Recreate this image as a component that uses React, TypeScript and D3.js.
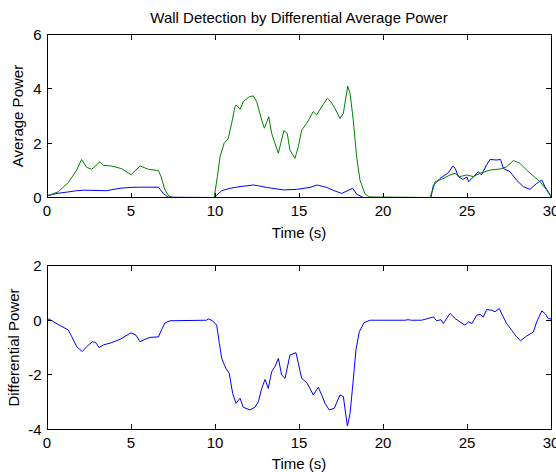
import React from "react";
import * as d3 from "d3";

// ---- Data ----
const xTicks = [0, 5, 10, 15, 20, 25, 30];
const topYTicks = [0, 2, 4, 6];
const botYTicks = [-4, -2, 0, 2];

const titleText = "Wall Detection by Differential Average Power";
const xLabelText = "Time (s)";
const topYLabel = "Average Power";
const botYLabel = "Differential Power";

const greenT = [0, 0.67, 1.27, 1.77, 2.06, 2.36, 2.66, 3.15, 3.35, 3.85, 4.44, 5.0, 5.54, 6.03, 6.63, 6.79, 7.02, 7.26, 7.5, 9.95, 10.14, 10.3, 10.54, 10.79, 10.99, 11.19, 11.25, 11.5, 11.68, 12.04, 12.28, 12.48, 12.78, 12.94, 13.2, 13.37, 13.77, 14.1, 14.3, 14.46, 14.76, 14.96, 15.16, 15.46, 15.85, 16.05, 16.35, 16.69, 16.89, 17.14, 17.44, 17.64, 17.9, 18.04, 18.23, 18.43, 18.63, 18.93, 19.18, 22.8, 23.0, 23.1, 23.49, 23.99, 24.29, 24.58, 24.98, 25.38, 25.77, 26.37, 26.96, 27.36, 27.76, 28.15, 28.55, 28.95, 29.35, 29.74, 30];
const greenV = [0.05, 0.21, 0.55, 1.01, 1.4, 1.11, 1.04, 1.31, 1.18, 1.16, 1.06, 0.84, 1.16, 1.04, 0.99, 0.77, 0.28, 0.05, 0, 0, 0.77, 1.5, 1.99, 2.18, 2.73, 3.34, 3.4, 3.25, 3.53, 3.71, 3.74, 3.53, 2.85, 2.55, 2.97, 2.36, 1.63, 2.46, 2.36, 1.75, 1.44, 1.87, 2.48, 2.73, 3.16, 3.04, 3.34, 3.65, 3.53, 3.28, 2.91, 3.1, 4.1, 3.83, 2.85, 1.5, 0.64, 0.13, 0.02, 0, 0.35, 0.58, 0.67, 0.83, 0.89, 0.77, 0.83, 0.77, 0.89, 1.01, 1.05, 1.13, 1.36, 1.26, 1.01, 0.79, 0.58, 0.28, 0.02];

const blueT = [0, 0.18, 0.6, 1.2, 1.77, 2.2, 3.55, 3.8, 4.35, 4.94, 5.5, 6.0, 6.63, 6.92, 7.22, 9.95, 10.4, 10.9, 11.49, 12.28, 12.6, 13.07, 14.07, 14.86, 15.65, 16.09, 16.65, 17.1, 17.54, 18.2, 18.43, 18.83, 22.85, 23.0, 23.39, 23.89, 24.15, 24.3, 24.48, 24.74, 25.0, 25.1, 25.4, 25.67, 25.86, 26.17, 26.37, 26.76, 27.0, 27.16, 27.56, 27.95, 28.35, 28.75, 29.15, 29.45, 29.64, 30];
const blueV = [0.08, 0.09, 0.15, 0.2, 0.25, 0.27, 0.25, 0.28, 0.34, 0.37, 0.38, 0.38, 0.38, 0.15, 0.01, 0, 0.25, 0.34, 0.4, 0.46, 0.43, 0.37, 0.28, 0.3, 0.37, 0.46, 0.37, 0.25, 0.15, 0.34, 0.12, 0, 0, 0.45, 0.7, 0.91, 1.16, 1.07, 0.77, 0.67, 0.75, 0.58, 0.77, 0.95, 0.83, 1.2, 1.4, 1.38, 1.4, 1.07, 0.95, 0.64, 0.4, 0.3, 0.52, 0.64, 0.4, 0.05];

const diffT = [0, 0.12, 0.2, 0.48, 1.27, 1.47, 1.77, 2.1, 2.36, 2.7, 2.9, 3.1, 3.35, 3.85, 4.35, 5.0, 5.3, 5.54, 5.83, 6.13, 6.63, 6.83, 7.02, 7.32, 9.5, 9.6, 9.85, 10.1, 10.26, 10.4, 10.65, 10.85, 11.05, 11.25, 11.49, 11.68, 12.08, 12.38, 12.58, 12.78, 12.98, 13.17, 13.37, 13.57, 13.77, 13.97, 14.17, 14.46, 14.82, 14.96, 15.16, 15.46, 15.65, 15.85, 16.15, 16.35, 16.55, 16.8, 17.1, 17.44, 17.64, 17.88, 18.04, 18.23, 18.39, 18.59, 18.87, 19.23, 21.3, 21.5, 21.7, 22.3, 23.0, 23.2, 23.45, 23.59, 23.99, 24.3, 24.58, 24.88, 25.1, 25.3, 25.57, 25.77, 25.97, 26.17, 26.47, 26.67, 26.92, 27.16, 27.36, 27.66, 27.95, 28.19, 28.55, 28.95, 29.15, 29.45, 29.64, 29.84, 30];
const diffV = [0, 0.05, 0.02, -0.09, -0.36, -0.6, -0.97, -1.15, -0.97, -0.79, -0.82, -1.0, -0.91, -0.82, -0.7, -0.46, -0.55, -0.79, -0.7, -0.63, -0.61, -0.34, -0.1, -0.02, 0, 0.05, -0.02, -0.18, -0.85, -1.4, -1.77, -1.95, -2.68, -3.05, -2.86, -3.19, -3.29, -3.19, -2.99, -2.5, -2.17, -2.5, -1.89, -1.7, -1.4, -2.01, -2.13, -1.28, -1.19, -1.58, -2.13, -2.29, -2.5, -2.74, -2.46, -2.74, -3.05, -3.29, -3.23, -2.74, -2.8, -3.88, -3.42, -2.19, -1.09, -0.42, -0.09, 0, 0, 0.02, 0, 0, 0.12, -0.02, 0.02, -0.12, 0.25, 0.06, -0.06, -0.18, -0.06, -0.12, 0.18, 0.22, 0.12, 0.39, 0.37, 0.31, 0.43, 0.12, -0.12, -0.37, -0.61, -0.75, -0.58, -0.43, -0.06, 0.34, 0.25, 0.06, 0.05];

// ---- Layout ----
const W = 556;
const H = 472;
const FONT = "'Liberation Sans', Arial, Helvetica, sans-serif";
const FS = 15;
const left = 47;
const right = 551;
const topPanel = { top: 34.5, bottom: 197.5 };
const botPanel = { top: 265.7, bottom: 429.3 };

type Series = { t: number[]; v: number[]; color: string };

function Panel({
  y0,
  y1,
  yDomain,
  yTicks,
  yLabel,
  yLabelX,
  series,
}: {
  y0: number;
  y1: number;
  yDomain: [number, number];
  yTicks: number[];
  yLabel: string;
  yLabelX: number;
  series: Series[];
}) {
  const x = d3.scaleLinear().domain([0, 30]).range([left, right]);
  const y = d3.scaleLinear().domain(yDomain).range([y1, y0]);
  const tickLen = 5;
  const cy = (y0 + y1) / 2;
  return (
    <g>
      {series.map((s, i) => {
        const pts: [number, number][] = s.t.map((t, j) => [t, s.v[j]]);
        const line = d3
          .line<[number, number]>()
          .x((d) => x(d[0]))
          .y((d) => y(d[1]));
        return (
          <path
            key={i}
            d={line(pts) || ""}
            fill="none"
            stroke={s.color}
            strokeWidth={1}
            strokeLinejoin="round"
          />
        );
      })}
      <rect
        x={left}
        y={y0}
        width={right - left}
        height={y1 - y0}
        fill="none"
        stroke="#000"
        strokeWidth={1}
        shapeRendering="crispEdges"
      />
      {xTicks.map((t) => (
        <g key={"x" + t}>
          <line x1={x(t)} x2={x(t)} y1={y1} y2={y1 - tickLen} stroke="#000" shapeRendering="crispEdges" />
          <line x1={x(t)} x2={x(t)} y1={y0} y2={y0 + tickLen} stroke="#000" shapeRendering="crispEdges" />
          <text x={x(t)} y={y1 + 18.5} textAnchor="middle" fontSize={FS} fontFamily={FONT}>
            {t}
          </text>
        </g>
      ))}
      {yTicks.map((v) => (
        <g key={"y" + v}>
          <line x1={left} x2={left + tickLen} y1={y(v)} y2={y(v)} stroke="#000" shapeRendering="crispEdges" />
          <line x1={right} x2={right - tickLen} y1={y(v)} y2={y(v)} stroke="#000" shapeRendering="crispEdges" />
          <text x={left - 5.5} y={y(v) + 5.4} textAnchor="end" fontSize={FS} fontFamily={FONT}>
            {v}
          </text>
        </g>
      ))}
      <text x={(left + right) / 2} y={y1 + 40} textAnchor="middle" fontSize={FS} fontFamily={FONT}>
        {xLabelText}
      </text>
      <text
        transform={`translate(${yLabelX},${cy}) rotate(-90)`}
        textAnchor="middle"
        fontSize={FS}
        fontFamily={FONT}
      >
        {yLabel}
      </text>
    </g>
  );
}

export default function App() {
  return (
    <svg
      width={W}
      height={H}
      style={{ position: "absolute", left: 0, top: 0, background: "#fff" }}
    >
      <rect x={0} y={0} width={W} height={H} fill="#fff" />
      <text x={(left + right) / 2} y={22.7} textAnchor="middle" fontSize={FS} fontFamily={FONT}>
        {titleText}
      </text>
      <Panel
        y0={topPanel.top}
        y1={topPanel.bottom}
        yDomain={[0, 6]}
        yTicks={topYTicks}
        yLabel={topYLabel}
        yLabelX={23}
        series={[
          { t: blueT, v: blueV, color: "#0000ff" },
          { t: greenT, v: greenV, color: "#008000" },
        ]}
      />
      <Panel
        y0={botPanel.top}
        y1={botPanel.bottom}
        yDomain={[-4, 2]}
        yTicks={botYTicks}
        yLabel={botYLabel}
        yLabelX={18.5}
        series={[{ t: diffT, v: diffV, color: "#0000ff" }]}
      />
    </svg>
  );
}
